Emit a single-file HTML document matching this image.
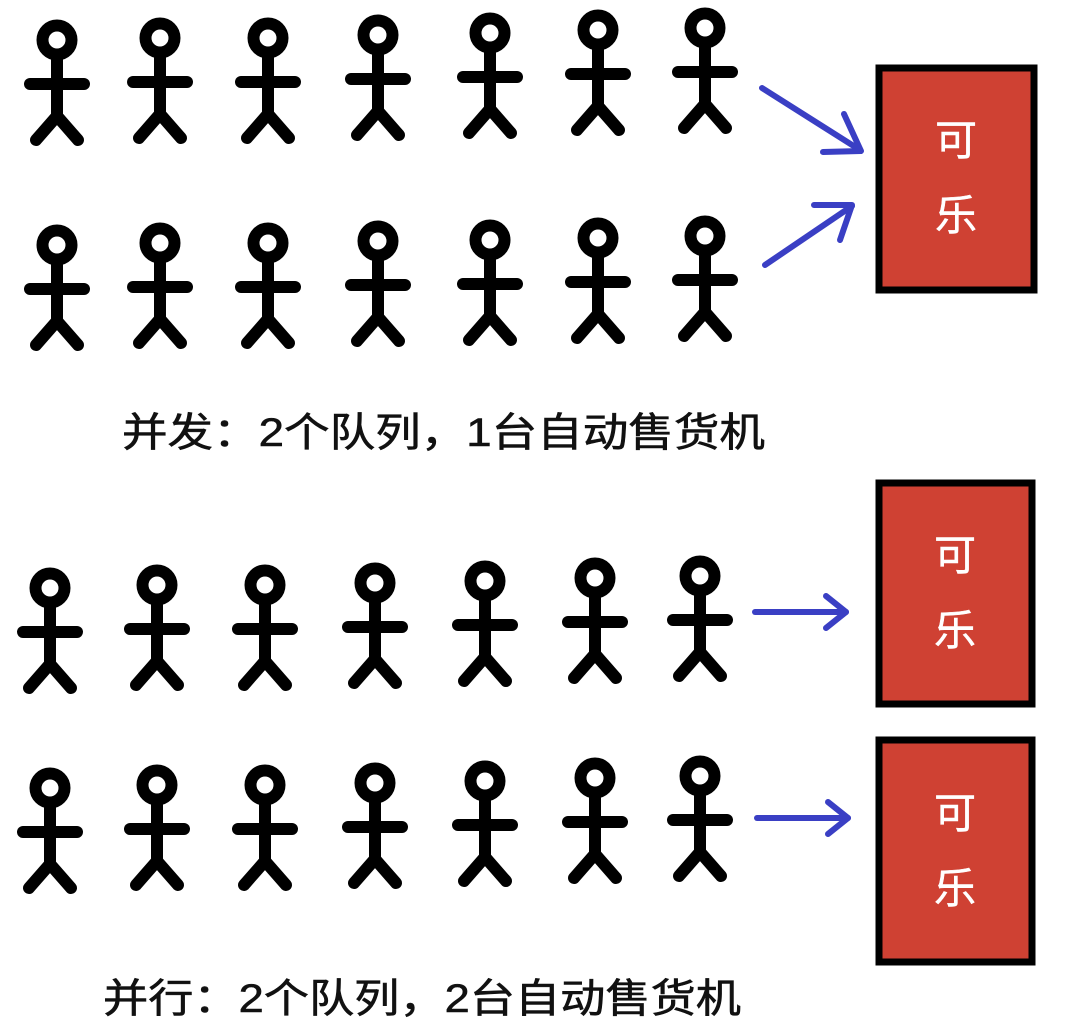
<!DOCTYPE html>
<html><head><meta charset="utf-8"><style>
html,body{margin:0;padding:0;background:#fff;width:1066px;height:1030px;overflow:hidden}
</style></head><body>
<svg width="1066" height="1030" viewBox="0 0 1066 1030" xmlns="http://www.w3.org/2000/svg">
<defs>
<g id="p" fill="none" stroke="#000" stroke-width="12" stroke-linecap="round" stroke-linejoin="round">
<circle cx="0" cy="0" r="14.5"/>
<line x1="0" y1="16" x2="0" y2="75"/>
<line x1="-27" y1="44" x2="27" y2="44"/>
<polyline points="-21,100 0,76 21,100"/>
</g>
</defs>
<g>
<use href="#p" x="57" y="40"/><use href="#p" x="160" y="38"/><use href="#p" x="268" y="38"/><use href="#p" x="378" y="35"/><use href="#p" x="490" y="33"/><use href="#p" x="598" y="30"/><use href="#p" x="705" y="28"/>
<use href="#p" x="57" y="245"/><use href="#p" x="160" y="243"/><use href="#p" x="268" y="243"/><use href="#p" x="378" y="241"/><use href="#p" x="490" y="240"/><use href="#p" x="598" y="238"/><use href="#p" x="705" y="236"/>
<use href="#p" x="50" y="588"/><use href="#p" x="157" y="585"/><use href="#p" x="265" y="585"/><use href="#p" x="375" y="583"/><use href="#p" x="485" y="581"/><use href="#p" x="595" y="578"/><use href="#p" x="700" y="576"/>
<use href="#p" x="50" y="788"/><use href="#p" x="157" y="785"/><use href="#p" x="265" y="785"/><use href="#p" x="375" y="783"/><use href="#p" x="485" y="781"/><use href="#p" x="595" y="778"/><use href="#p" x="700" y="776"/>
</g>
<g stroke="#3a3fc4" stroke-width="6" fill="none" stroke-linecap="round" stroke-linejoin="round">
<line x1="762" y1="88" x2="860" y2="150"/><polyline points="844,114 861,151 823,152"/>
<line x1="765" y1="265" x2="852" y2="206"/><polyline points="814,205 852,205 840,240"/>
<line x1="755" y1="612" x2="846" y2="612"/><polyline points="826,596 846,612 826,628"/>
<line x1="757" y1="818" x2="848" y2="818"/><polyline points="828,802 848,818 828,834"/>
</g>
<g fill="#cf4133" stroke="#000" stroke-width="7">
<rect x="879" y="68" width="155" height="222"/>
<rect x="879" y="483" width="153" height="221"/>
<rect x="879" y="740" width="153" height="222"/>
</g>
<g fill="#fff" stroke="#fff" stroke-width="0.5" font-family="'Liberation Sans','Noto Sans CJK SC',sans-serif" font-size="42" text-anchor="middle">
<text x="956" y="155">可</text><text x="956" y="230">乐</text>
<text x="955" y="570">可</text><text x="955" y="645">乐</text>
<text x="955" y="828">可</text><text x="955" y="903">乐</text>
</g>
<g fill="#111" stroke="#111" stroke-width="0.6" font-family="'Liberation Sans','Noto Sans CJK SC',sans-serif" font-size="40">
<text x="122" y="446" textLength="643" lengthAdjust="spacingAndGlyphs">并发：2个队列，1台自动售货机</text>
<text x="103" y="1012" textLength="638" lengthAdjust="spacingAndGlyphs">并行：2个队列，2台自动售货机</text>
</g>
</svg>
</body></html>
